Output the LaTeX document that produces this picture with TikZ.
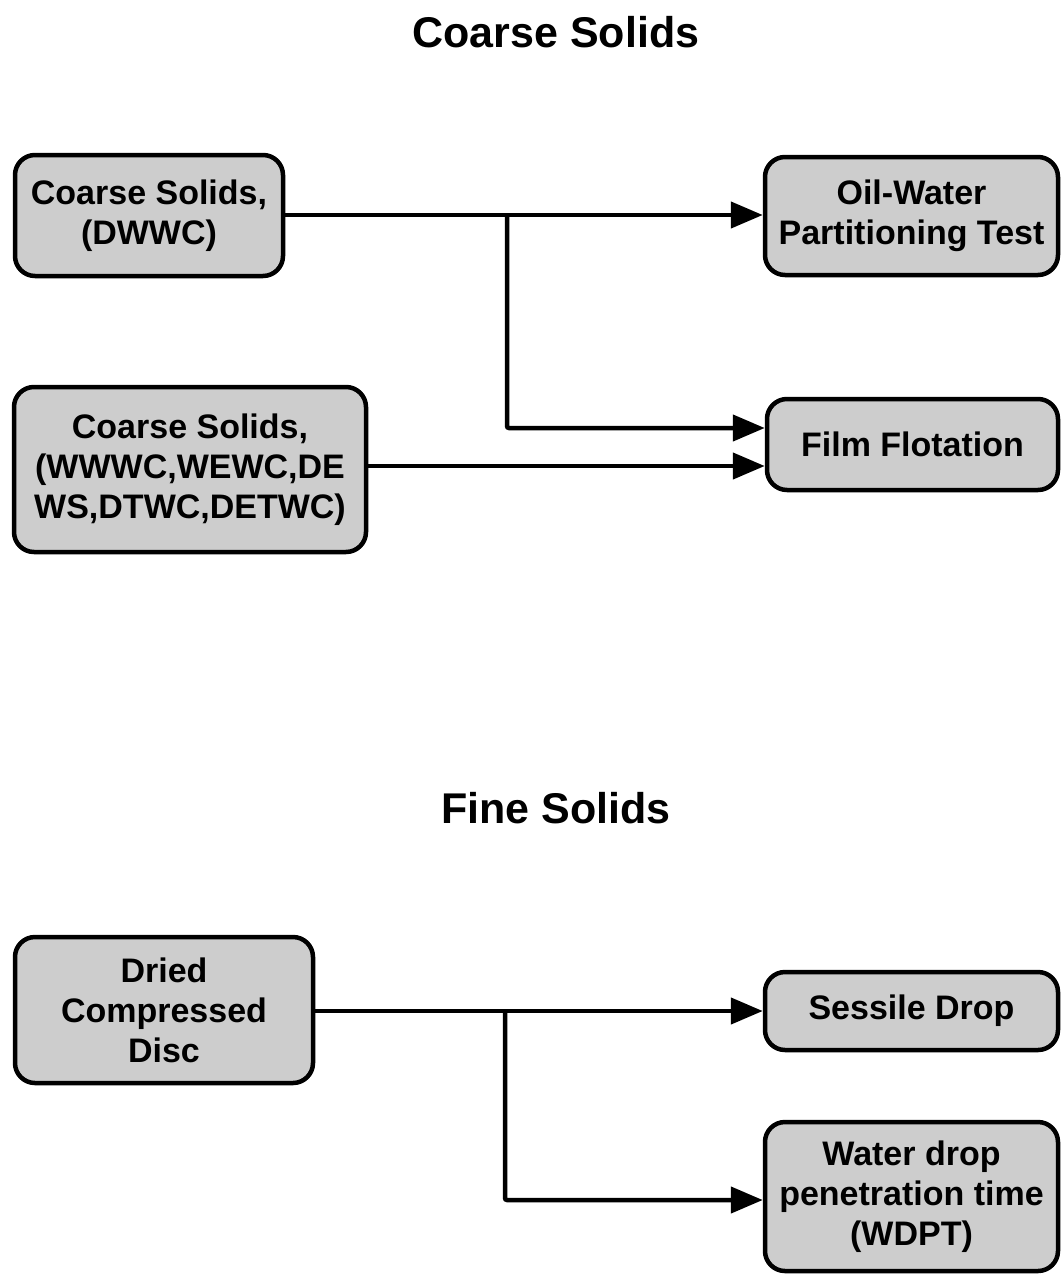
\documentclass[tikz,border=0pt]{standalone}
\usepackage{fontspec}
\setmainfont{Liberation Sans}
\usetikzlibrary{arrows.meta}
\definecolor{boxfill}{HTML}{CDCDCD}
\tikzset{
  stage/.style={draw=black, line width=4.5pt, fill=boxfill, rounded corners=20pt,
    align=center, inner sep=0pt, font=\fontsize{34}{40}\selectfont\bfseries},
  heading/.style={font=\fontsize{43}{50}\selectfont\bfseries, inner sep=0pt},
  flow/.style={line width=4.5pt, -{Triangle[length=32pt,width=26pt]}},
}
\begin{document}
\begin{tikzpicture}[x=1pt,y=-1pt]
\useasboundingbox (0,0) rectangle (1062,1275);

% section titles
\node[heading] (tc) at (556,32) {Coarse Solids};
\node[heading] (tf) at (556,808) {Fine Solids};

% coarse solids
\node[stage, minimum width=268pt, minimum height=121pt] (dwwc) at (149,215.5) {Coarse Solids,\\(DWWC)};
\node[stage, minimum width=352pt, minimum height=165pt] (mix) at (190,469.5) {Coarse Solids,\\(WWWC,WEWC,DE\\WS,DTWC,DETWC)};
\node[stage, minimum width=293pt, minimum height=118pt] (owp) at (911.5,216) {Oil-Water\\Partitioning Test};
\node[stage, minimum width=291pt, minimum height=91pt] (ff) at (912.5,444.5) {Film Flotation};

% fine solids
\node[stage, minimum width=298pt, minimum height=146pt] (dcd) at (164,1010) {Dried\\Compressed\\Disc};
\node[stage, minimum width=293pt, minimum height=78pt] (sd) at (911.5,1011) {Sessile Drop};
\node[stage, minimum width=293pt, minimum height=149pt] (wdpt) at (911.5,1196.5) {Water drop\\penetration time\\(WDPT)};

% connectors
\coordinate (jc) at (507,215);
\coordinate (jf) at (505,1011);
\draw[flow] (dwwc.east |- jc) -- (owp.west |- jc);
\draw[flow, rounded corners=2pt] (jc) -- (jc |- 0,428) -- (ff.west |- 0,428);
\draw[flow] (mix.east |- 0,466) -- (ff.west |- 0,466);
\draw[flow] (dcd.east |- jf) -- (sd.west |- jf);
\draw[flow, rounded corners=2pt] (jf) -- (jf |- 0,1200) -- (wdpt.west |- 0,1200);
\end{tikzpicture}
\end{document}
